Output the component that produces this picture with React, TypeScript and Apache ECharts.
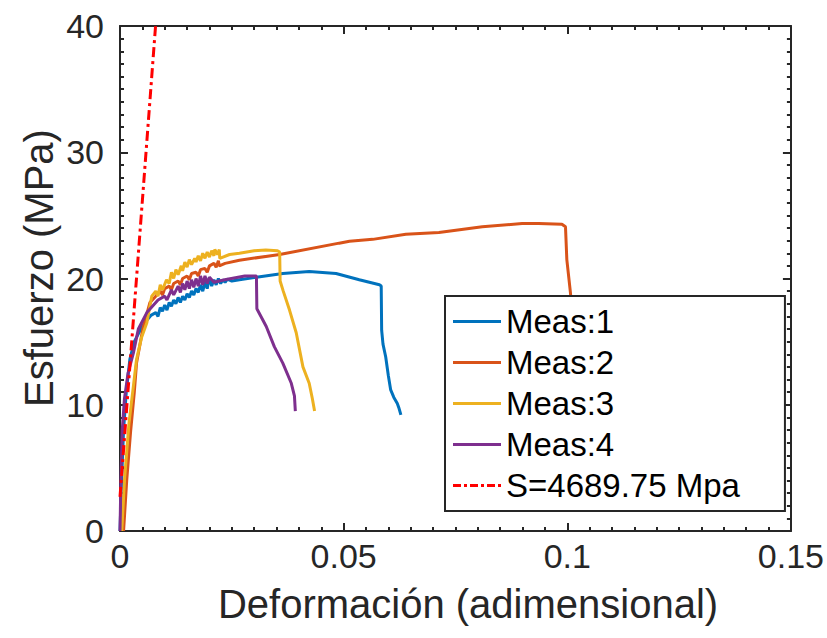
import React, { useEffect, useRef } from "react";
import * as echarts from "echarts";

const xTicks = [0, 0.05, 0.1, 0.15];
const yTicks = [0, 10, 20, 30, 40];
const seriesNames = ["Meas:1", "Meas:2", "Meas:3", "Meas:4", "S=4689.75 Mpa"];
const colors = ["#0072BD", "#D95319", "#EDB120", "#7E2F8E", "#FF0000"];

const meas1: number[][] = [
  [0, 0], [0.0003, 3.5], [0.0008, 8], [0.0014, 11], [0.0022, 13.6], [0.0032, 15], [0.0048, 16.1],
  [0.006, 16.7], [0.007, 17.1], [0.008, 17.3], [0.0085, 17.0], [0.009, 17.7], [0.0095, 17.4],
  [0.010, 17.9], [0.0105, 17.5], [0.011, 18.1], [0.0115, 17.8], [0.012, 18.3], [0.0125, 18.0],
  [0.013, 18.5], [0.0135, 18.1], [0.014, 18.6], [0.0145, 18.3], [0.015, 18.8], [0.0155, 18.5],
  [0.016, 19.0], [0.0165, 18.7], [0.017, 19.2], [0.0175, 18.9], [0.018, 19.5], [0.0185, 19.0],
  [0.019, 19.7], [0.0195, 19.2], [0.020, 20.1], [0.0205, 19.4], [0.021, 19.9], [0.0215, 19.5],
  [0.022, 20.0], [0.0225, 19.6], [0.023, 19.9], [0.0235, 19.7], [0.024, 19.95], [0.025, 19.8],
  [0.0267, 19.9], [0.0305, 20.1], [0.0364, 20.4], [0.0423, 20.55], [0.0483, 20.4], [0.0535, 19.9],
  [0.058, 19.5], [0.0584, 19.4], [0.0585, 15.9], [0.0588, 14.8], [0.0594, 13.8], [0.06, 12.3],
  [0.0605, 11.2], [0.0612, 10.6], [0.062, 10.1], [0.0624, 9.7], [0.0628, 9.2],
];

const meas2: number[][] = [
  [0.0008, 0], [0.0015, 4], [0.0024, 8], [0.0032, 11], [0.0037, 13.3], [0.0051, 16], [0.0067, 18.1],
  [0.008, 18.6], [0.009, 19.0], [0.0095, 18.7], [0.010, 19.2], [0.011, 19.4], [0.0115, 19.1],
  [0.012, 19.6], [0.013, 19.8], [0.0135, 19.5], [0.014, 20.0], [0.015, 20.2], [0.0155, 19.9],
  [0.016, 20.4], [0.017, 20.5], [0.0175, 20.2], [0.018, 20.7], [0.019, 20.8], [0.0195, 20.5],
  [0.020, 21.0], [0.021, 21.2], [0.0215, 20.9], [0.022, 21.4], [0.0222, 21.0], [0.0235, 21.2],
  [0.0267, 21.45], [0.0357, 21.9], [0.049, 22.8], [0.0513, 22.95], [0.0565, 23.1], [0.0639, 23.5],
  [0.0713, 23.65], [0.081, 24.1], [0.0899, 24.35], [0.0936, 24.35], [0.0988, 24.3], [0.0996, 24.1],
  [0.0999, 21.5], [0.1007, 18.9], [0.101, 17.5],
];

const meas3: number[][] = [
  [0.0004, 0], [0.001, 4], [0.002, 8.5], [0.003, 11.5], [0.0037, 13.6], [0.0048, 15.3], [0.006, 16.5],
  [0.0071, 18.6], [0.008, 19.0], [0.0085, 18.6], [0.009, 19.5], [0.0095, 19.1], [0.0104, 19.9],
  [0.011, 19.6], [0.0115, 20.5], [0.012, 20.0], [0.0125, 20.7], [0.013, 20.3], [0.0137, 21.0],
  [0.014, 20.6], [0.0145, 21.3], [0.015, 20.9], [0.0155, 21.5], [0.016, 21.1], [0.0167, 21.6],
  [0.017, 21.3], [0.0175, 21.8], [0.018, 21.4], [0.0185, 22.0], [0.019, 21.6], [0.0195, 22.1],
  [0.020, 21.7], [0.0205, 22.2], [0.021, 21.8], [0.0212, 22.3], [0.0218, 21.9], [0.0222, 22.3],
  [0.0223, 21.6], [0.0245, 21.9], [0.0267, 22.0], [0.03, 22.2], [0.0326, 22.25], [0.0352, 22.2],
  [0.0357, 22.1], [0.0358, 19.8], [0.0365, 19.0], [0.0379, 17.5], [0.0394, 15.7], [0.0409, 13.0],
  [0.0423, 11.7], [0.043, 10.5], [0.0435, 9.5],
];

const meas4: number[][] = [
  [0, 0], [0.0002, 4], [0.0005, 8], [0.001, 10.5], [0.0018, 12.5], [0.003, 14.1], [0.0041, 16],
  [0.006, 17.3], [0.0085, 18.3], [0.010, 18.6], [0.0105, 18.3], [0.0115, 19.1], [0.012, 18.7],
  [0.013, 19.4], [0.0135, 18.9], [0.014, 19.6], [0.0145, 19.1], [0.015, 19.8], [0.0155, 19.2],
  [0.016, 19.9], [0.0165, 19.3], [0.017, 20.0], [0.0175, 19.4], [0.018, 20.2], [0.0185, 19.5],
  [0.019, 20.2], [0.0195, 19.6], [0.020, 20.1], [0.021, 19.7], [0.0234, 19.9], [0.0279, 20.2],
  [0.0305, 20.2], [0.0306, 17.6], [0.0327, 16.2], [0.0345, 14.6], [0.0364, 13.3], [0.0383, 11.7],
  [0.039, 10.7], [0.0392, 9.5],
];

const fitLine: number[][] = [
  [0, 2.7], [0.00795, 40],
];

const FONT = "'Liberation Sans', Arial, Helvetica, sans-serif";
const AX = "#262626";
const SOLID_ICON = "path://M0 0H48V3H0Z";
const DASHDOT_ICON = "path://M0 0H8V3H0ZM11 0H14V3H11ZM17 0H25V3H17ZM28 0H31V3H28ZM34 0H42V3H34ZM45 0H48V3H45Z";

export default function App() {
  const ref = useRef<HTMLDivElement>(null);
  useEffect(() => {
    if (!ref.current) return;
    const chart = echarts.init(ref.current, undefined, { renderer: "svg" });
    const gridL = 120, gridT = 26, gridR = 793, gridB = 531;
    const axisCommon = {
      type: "value" as const,
      axisLine: { show: true, onZero: false, lineStyle: { color: AX, width: 2 } },
      axisTick: { show: true, inside: true, length: 8, lineStyle: { color: AX, width: 2 } },
      minorTick: { show: true, splitNumber: 10, length: 4, lineStyle: { color: AX, width: 2 } },
      splitLine: { show: false },
      minorSplitLine: { show: false },
    };
    const xAx = { ...axisCommon, min: xTicks[0], max: xTicks[xTicks.length - 1], interval: xTicks[1] - xTicks[0] };
    const yAx = { ...axisCommon, min: yTicks[0], max: yTicks[yTicks.length - 1], interval: yTicks[1] - yTicks[0] };
    const datas = [meas1, meas2, meas3, meas4, fitLine];
    chart.setOption({
      animation: false,
      backgroundColor: "#ffffff",
      grid: { left: gridL, top: gridT, right: 827 - gridR, bottom: 638 - gridB, containLabel: false },
      xAxis: [
        { ...xAx, position: "bottom", axisLabel: { color: AX, fontSize: 34, fontFamily: FONT, margin: 8 } },
        { ...xAx, position: "top", axisLabel: { show: false } },
      ],
      yAxis: [
        { ...yAx, position: "left", axisLabel: { color: AX, fontSize: 34, fontFamily: FONT, margin: 16 } },
        { ...yAx, position: "right", axisLabel: { show: false } },
      ],
      legend: {
        orient: "vertical",
        left: 445,
        top: 296,
        data: seriesNames.map((n, i) => ({ name: n, icon: i === 4 ? DASHDOT_ICON : SOLID_ICON })),
        backgroundColor: "#ffffff",
        borderColor: AX,
        borderWidth: 2,
        borderRadius: 0,
        padding: [5, 45, 5, 8],
        itemGap: 0,
        itemWidth: 48,
        itemHeight: 14,
        textStyle: { fontSize: 33, fontFamily: FONT, color: "#000000", lineHeight: 41, padding: [0, 0, 0, 0] },
      },
      graphic: [
        {
          type: "text",
          x: 468,
          y: 604,
          style: {
            text: "Deformación (adimensional)",
            font: `40px ${FONT}`,
            fill: AX,
            textAlign: "center",
            textVerticalAlign: "middle",
          },
        },
        {
          type: "text",
          x: 39,
          y: 268,
          rotation: Math.PI / 2,
          style: {
            text: "Esfuerzo (MPa)",
            font: `40px ${FONT}`,
            fill: AX,
            textAlign: "center",
            textVerticalAlign: "middle",
          },
        },
      ],
      series: datas.map((d, i) => ({
        name: seriesNames[i],
        type: "line",
        data: d,
        xAxisIndex: 0,
        yAxisIndex: 0,
        showSymbol: false,
        symbol: "none",
        clip: true,
        color: colors[i],
        lineStyle: {
          color: colors[i],
          width: 3,
          type: i === 4 ? [10, 4, 3, 4] : "solid",
        },
        z: 2 + i,
      })),
    });
    return () => chart.dispose();
  }, []);
  return <div ref={ref} style={{ position: "fixed", left: 0, top: 0, width: 827, height: 638 }} />;
}
